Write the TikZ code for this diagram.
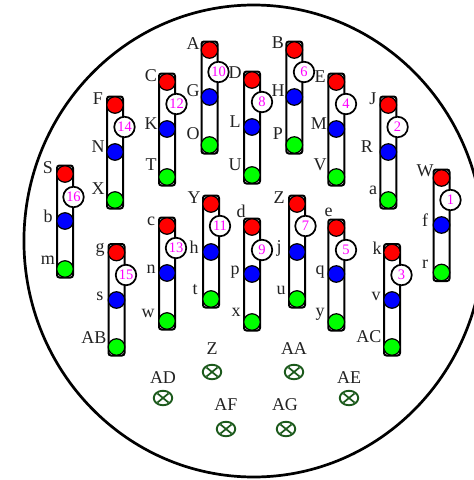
\documentclass[tikz,border=0pt]{standalone}
\usepackage{fontspec}
\setmainfont{Liberation Serif}
\definecolor{lab}{HTML}{222222}
\definecolor{xg}{HTML}{1C5A1C}
\definecolor{numc}{HTML}{FF00FF}
\definecolor{pinr}{HTML}{FF0000}
\definecolor{pinb}{HTML}{0000FF}
\definecolor{ping}{HTML}{00FF00}
\tikzset{
  slot/.style={draw=black,line width=2pt,rounded corners=2.5pt,fill=white},
  pin/.style={circle,draw=black,line width=1.2pt,minimum size=16.5pt,inner sep=0pt},
  badge/.style={circle,draw=black,line width=1.7pt,fill=white,minimum size=20.5pt,inner sep=0pt,text=numc,font=\fontsize{14.5}{15}\selectfont},
  lbl/.style={inner sep=0pt,text=lab,font=\fontsize{18}{19}\selectfont},
  xell/.style={ellipse,draw=xg,line width=1.9pt,minimum width=18.5pt,minimum height=14.5pt,inner sep=0pt},
}
\usetikzlibrary{shapes.geometric}
\begin{document}
\begin{tikzpicture}[x=1pt,y=-1pt]
\useasboundingbox (0,0) rectangle (474,480);
\clip (0,0) rectangle (474,480);
\fill[white] (0,0) rectangle (474,480);
\node[ellipse,draw=black,line width=2.7pt,minimum width=459.5pt,minimum height=472pt,inner sep=0pt] (rim) at (253.7,241) {};
% x, red y, blue y, green y, badge number, badge x, badge y
\foreach \x/\r/\b/\g/\n/\bx/\by in {
  209.5/50/97/145/10/218.5/72,
  167/82/129/177/12/176.5/104,
  115/105/152/200/14/124.5/127,
  65/174/221/269/16/73.5/197,
  294.3/50/97/145/6/304/72,
  252/80/127/175/8/262/102,
  336.3/82/129/177/4/346/104,
  388.3/105/152/200/2/397.6/127,
  441.5/178/225/272.5/1/450.5/200,
  211/204/252/299/11/220/226,
  297/204/252/299/7/305.5/226,
  167/226/273/321/13/176/248,
  252/227/274/322/9/262/250,
  336.3/228/274/322/5/346/250,
  116.5/252.5/300/347/15/126/275,
  392/252.5/300/347/3/401.5/275}{
  \draw[slot] (\x-8,\r-8.5) rectangle (\x+8,\g+8.5);
  \node[pin,fill=pinr] (r\n) at (\x,\r) {};
  \node[pin,fill=pinb] (b\n) at (\x,\b) {};
  \node[pin,fill=ping] (g\n) at (\x,\g) {};
  \node[badge] (n\n) at (\bx,\by) {\n};
}
\foreach \t/\x/\y/\i in {
  A/193/44/1,G/193/91/2,O/193/134/3,C/151/76/4,K/151/124/5,T/151/165/6,
  F/98/99/7,N/98/147/8,X/98/189/9,S/48/168/10,b/48/216/11,m/48/260/12,
  D/235/73/13,L/235/122/14,U/235/165/15,B/278/43/16,H/278/91/17,P/278/134/18,
  E/320/77/19,M/319/124/20,V/320/165/21,J/373/99/22,R/367/147/23,a/373/190/24,
  W/425/171/25,f/425/220/26,r/425/264/27,Y/194/198/28,h/194/247/29,t/195/290/30,
  Z/279/198/31,j/279/248/32,u/281/290/33,c/151/221/34,n/151/269/35,w/148/313/36,
  d/241/211/37,p/235/272/38,x/236/312/39,e/328.7/212/40,q/320/272/41,y/320/314/42,
  g/100/250/43,s/100/296/44,AB/94/338/45,k/377/248/46,v/376/296/47,AC/369/337/48}{
  \node[lbl] (l\i) at (\x,\y) {\t};
}
\foreach \t/\lx/\ly/\x/\y/\i in {
  Z/212/349/212/372/1,AD/163/378/163/398/2,AF/226/405/226/429/3,
  AA/294/349/294/372/4,AE/349/378/349/398/5,AG/285/405/286/429/6}{
  \node[lbl] (t\i) at (\lx,\ly) {\t};
  \node[xell] (e\i) at (\x,\y) {};
  \draw[xg,line width=1.7pt] (\x-5.5,\y-4.5) -- (\x+5.5,\y+4.5) (\x-5.5,\y+4.5) -- (\x+5.5,\y-4.5);
}
\end{tikzpicture}
\end{document}
